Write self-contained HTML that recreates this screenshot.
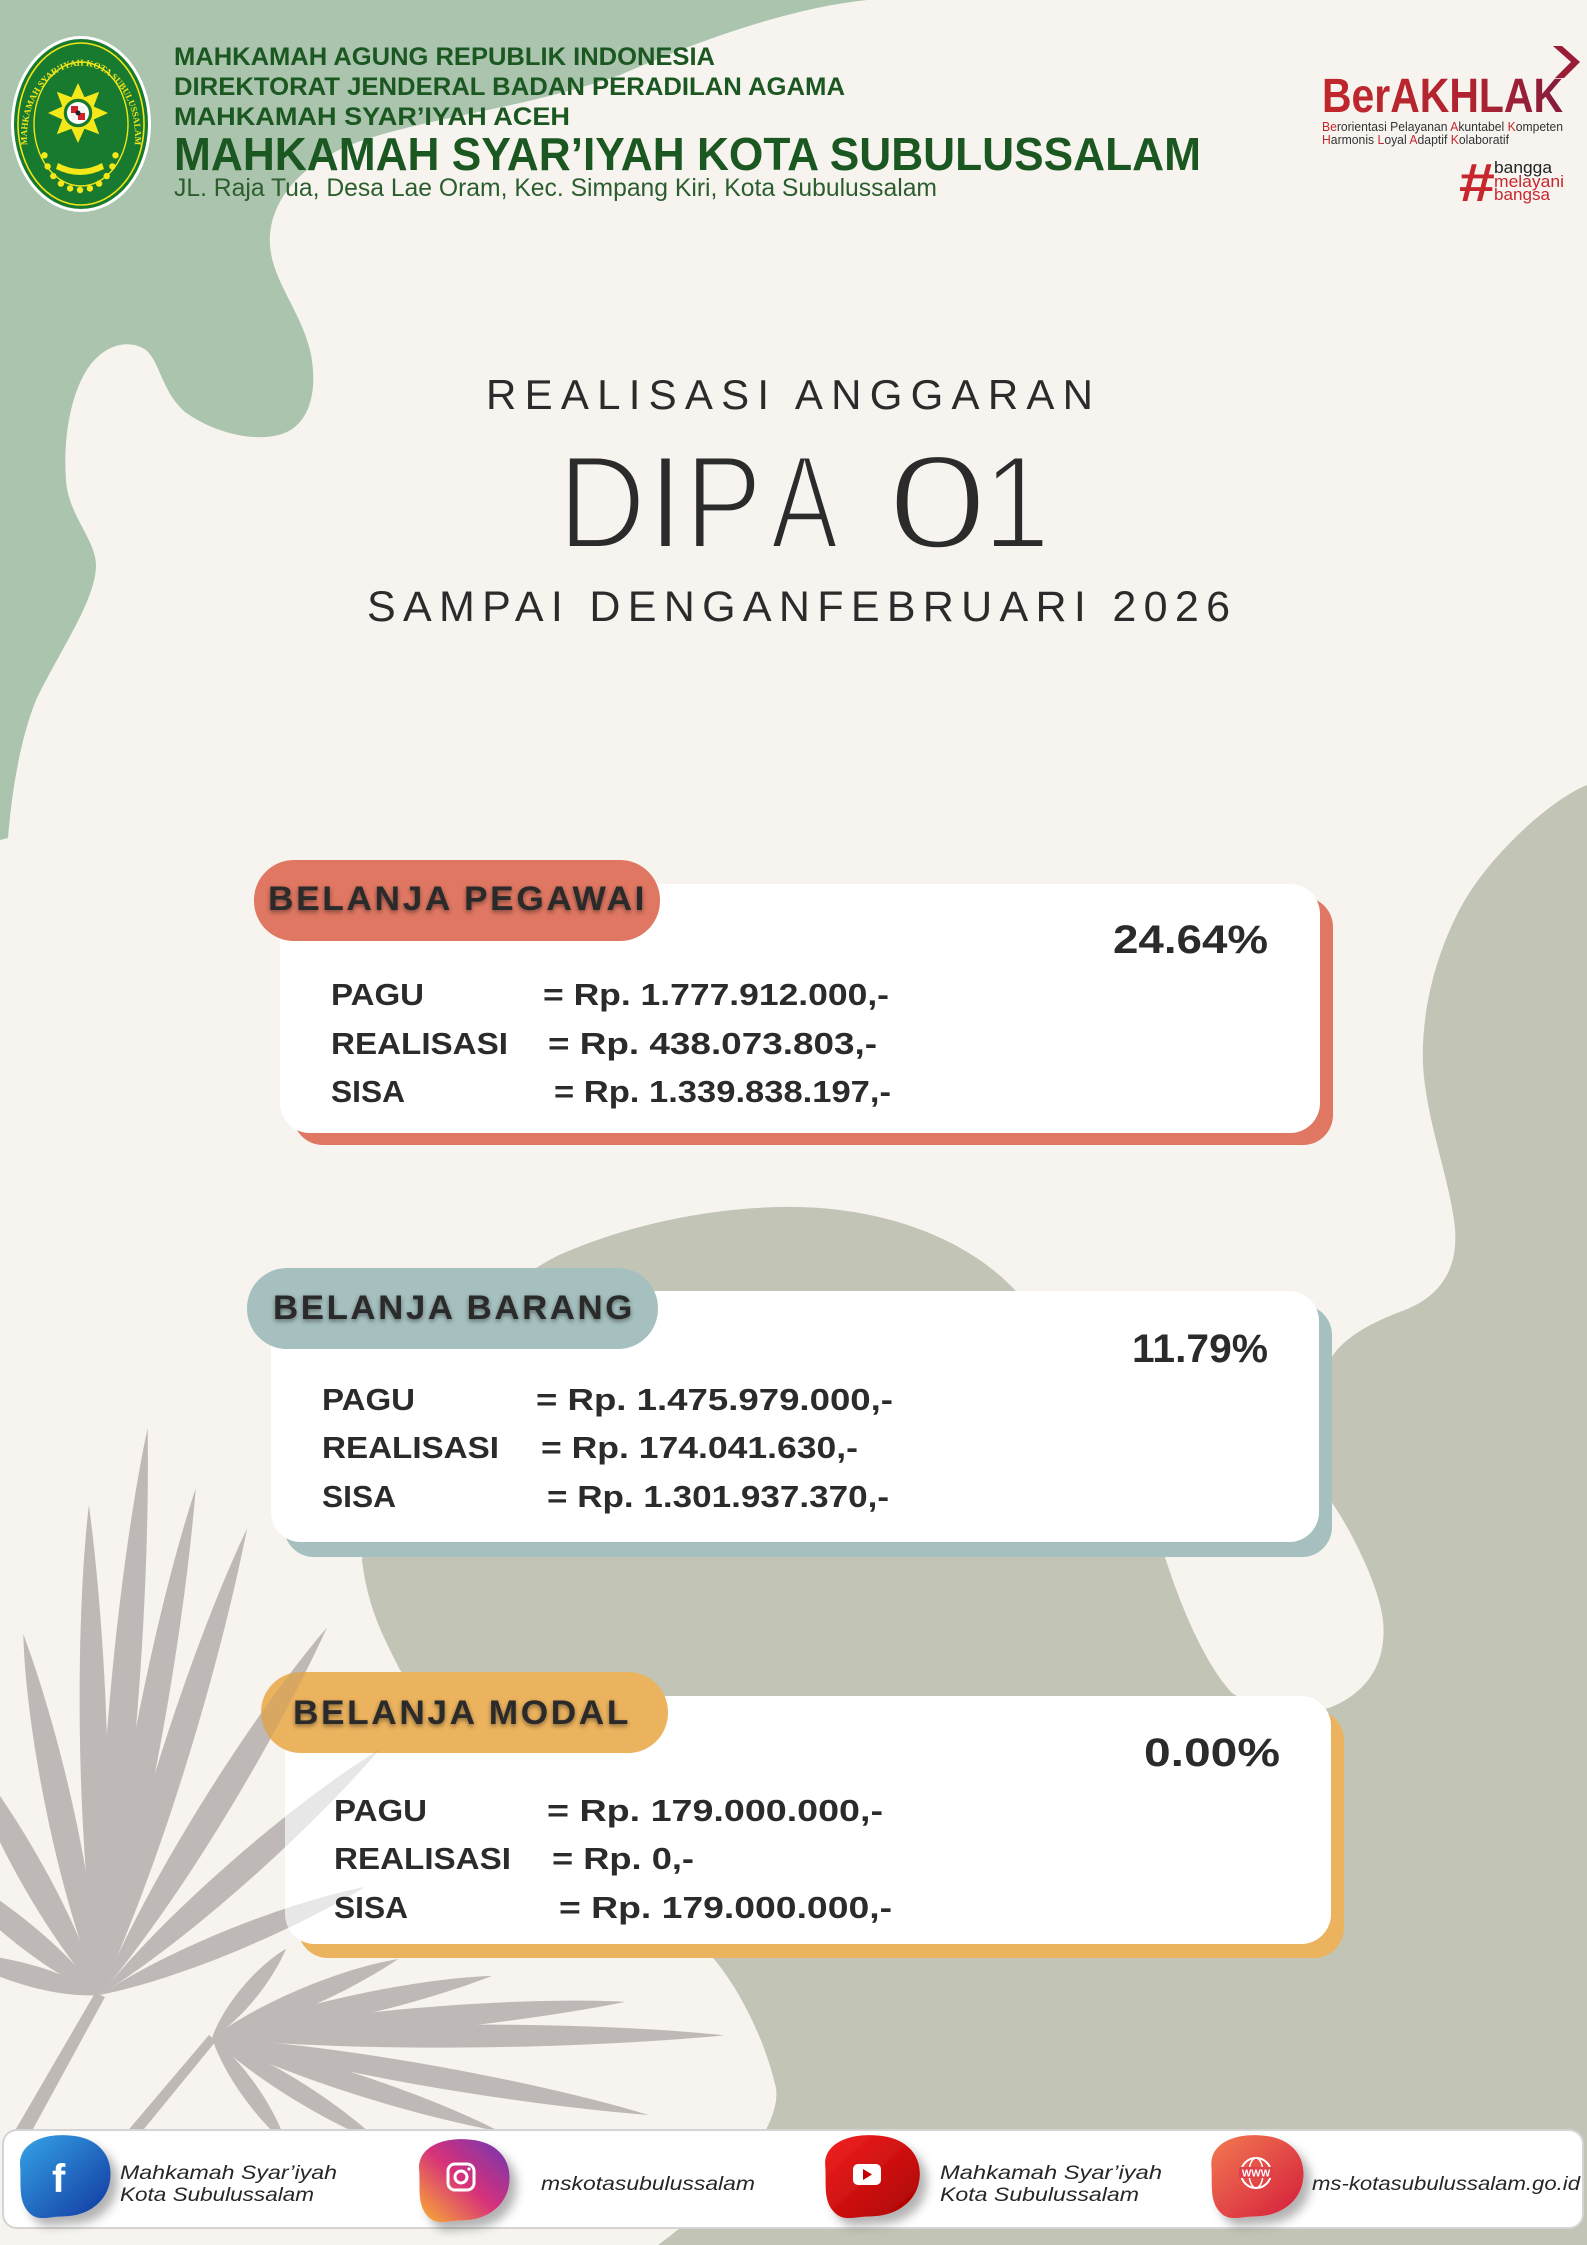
<!DOCTYPE html>
<html><head><meta charset="utf-8"><style>
html,body{margin:0;padding:0;background:#f7f4f0;}
svg{display:block;}
</style></head><body>
<svg width="1587" height="2245" viewBox="0 0 1587 2245" xmlns="http://www.w3.org/2000/svg" xmlns:xlink="http://www.w3.org/1999/xlink">
<defs>
  <filter id="ts" x="-5%" y="-40%" width="110%" height="180%"><feDropShadow dx="0" dy="2" stdDeviation="2.5" flood-color="#000" flood-opacity="0.45"/></filter>
  <filter id="bs" x="-30%" y="-30%" width="170%" height="170%"><feDropShadow dx="7" dy="8" stdDeviation="5" flood-color="#000" flood-opacity="0.3"/></filter>
  <linearGradient id="gBer" x1="0" y1="0" x2="1" y2="0"><stop offset="0" stop-color="#c1272d"/><stop offset="0.6" stop-color="#b0242f"/><stop offset="1" stop-color="#861c3e"/></linearGradient>
  <linearGradient id="gFb" x1="0" y1="0" x2="1" y2="1"><stop offset="0" stop-color="#35a3e6"/><stop offset="1" stop-color="#1237a0"/></linearGradient>
  <linearGradient id="gIg" x1="0" y1="1" x2="1" y2="0"><stop offset="0" stop-color="#fbb032"/><stop offset="0.5" stop-color="#d6307a"/><stop offset="1" stop-color="#6b39b5"/></linearGradient>
  <linearGradient id="gYt" x1="0" y1="0" x2="1" y2="1"><stop offset="0" stop-color="#f52222"/><stop offset="1" stop-color="#a80000"/></linearGradient>
  <linearGradient id="gWw" x1="0" y1="0" x2="1" y2="1"><stop offset="0" stop-color="#f27a52"/><stop offset="1" stop-color="#d41c3a"/></linearGradient>
  <path id="lf" d="M0,0 C-0.55,-0.3 -0.45,-0.75 0,-1 C0.4,-0.72 0.5,-0.3 0,0Z"/>
  <path id="blob" d="M-38,-10 C-40,-35 -15,-45 8,-42 C32,-40 46,-22 44,2 C42,28 22,42 2,42 C-12,42 -22,48 -30,38 C-40,26 -37,10 -38,-10Z"/>
  <path id="logoArc" d="M30,160 A54,71 0 1 1 132,160"/>
  <g id="leaves" stroke="none">
    <polygon points="95,1993 105,1997 27,2140 13,2134"/>
    <polygon points="209,2035 216,2041 135,2140 125,2134"/>
    <use xlink:href="#lf" transform="translate(100,1995) rotate(4.8) scale(40,569)"/>
    <use xlink:href="#lf" transform="translate(100,1995) rotate(-1.3) scale(38,490)"/>
    <use xlink:href="#lf" transform="translate(100,1995) rotate(-12) scale(38,369)"/>
    <use xlink:href="#lf" transform="translate(100,1995) rotate(-29) scale(38,290)"/>
    <use xlink:href="#lf" transform="translate(100,1995) rotate(-51) scale(34,210)"/>
    <use xlink:href="#lf" transform="translate(100,1995) rotate(-74) scale(30,150)"/>
    <use xlink:href="#lf" transform="translate(100,1995) rotate(10.7) scale(38,516)"/>
    <use xlink:href="#lf" transform="translate(100,1995) rotate(17.5) scale(38,489)"/>
    <use xlink:href="#lf" transform="translate(100,1995) rotate(31.7) scale(38,432)"/>
    <use xlink:href="#lf" transform="translate(100,1995) rotate(48.7) scale(36,373)"/>
    <use xlink:href="#lf" transform="translate(100,1995) rotate(67.8) scale(32,286)"/>
    <use xlink:href="#lf" transform="translate(212,2038) rotate(39.7) scale(24,116)"/>
    <use xlink:href="#lf" transform="translate(212,2038) rotate(67) scale(28,202)"/>
    <use xlink:href="#lf" transform="translate(212,2038) rotate(77.5) scale(30,287)"/>
    <use xlink:href="#lf" transform="translate(212,2038) rotate(85) scale(32,415)"/>
    <use xlink:href="#lf" transform="translate(212,2038) rotate(89.7) scale(32,512)"/>
    <use xlink:href="#lf" transform="translate(212,2038) rotate(100) scale(30,443)"/>
    <use xlink:href="#lf" transform="translate(212,2038) rotate(108) scale(28,302)"/>
    <use xlink:href="#lf" transform="translate(212,2038) rotate(122) scale(26,200)"/>
    <use xlink:href="#lf" transform="translate(212,2038) rotate(145) scale(24,130)"/>
  </g>
</defs>

<!-- background -->
<rect x="0" y="0" width="1587" height="2245" fill="#f7f4f0"/>
<!-- green blob top-left -->
<path fill="#aac4ae" d="M0,0 L867,0 C790,8 700,40 620,75 C520,110 420,118 350,145 C290,170 268,210 270,245 C272,280 300,310 310,350 C318,385 312,420 287,432 C258,445 212,432 185,412 C162,392 160,362 146,350 C128,338 104,345 88,368 C70,395 63,440 66,480 C68,515 96,540 96,565 C96,600 60,650 36,700 C20,740 12,790 8,838 L0,840 Z"/>
<!-- gray blob -->
<path fill="#c2c4b6" d="M1587,785 C1550,800 1490,855 1462,905 C1432,960 1421,1020 1423,1065 C1426,1120 1450,1180 1455,1228 C1458,1268 1442,1295 1405,1310 C1372,1322 1342,1338 1330,1360 L1330,1500 C1345,1520 1378,1580 1383,1620 C1387,1660 1370,1692 1329,1708 C1290,1716 1252,1706 1232,1693 C1210,1670 1185,1620 1165,1557 C1150,1520 1100,1400 1015,1290 C960,1232 870,1205 780,1207 C690,1209 610,1232 557,1256 C470,1300 380,1420 362,1560 C368,1610 385,1640 400,1670 L600,1900 C650,1930 700,1945 714,1959 C740,1990 765,2040 776,2088 C782,2130 720,2200 658,2245 L1587,2245 Z"/>

<!-- leaves bottom layer -->
<g fill="#ccc8c5"><use xlink:href="#leaves"/></g>

<!-- logo -->
<ellipse cx="81" cy="124" rx="70" ry="88" fill="#ffffff"/>
<ellipse cx="81" cy="124" rx="67" ry="85" fill="#187a2f"/>
<ellipse cx="81" cy="124" rx="63" ry="81" fill="none" stroke="#f2e619" stroke-width="1.6"/>
<ellipse cx="81" cy="124" rx="47" ry="62" fill="none" stroke="#f2e619" stroke-width="1.4"/>
<text font-family="Liberation Serif, serif" font-weight="bold" font-size="9" fill="#f2e619"><textPath xlink:href="#logoArc" startOffset="50%" text-anchor="middle">MAHKAMAH SYAR’IYAH KOTA SUBULUSSALAM</textPath></text>
<polygon fill="#f5e81a" points="78,83 84.5,97.3 99.2,91.8 93.7,106.5 108,113 93.7,119.5 99.2,134.2 84.5,128.7 78,143 71.5,128.7 56.8,134.2 62.3,119.5 48,113 62.3,106.5 56.8,91.8 71.5,97.3"/>
<circle cx="78" cy="113" r="15" fill="#187a2f" stroke="#f5e81a" stroke-width="1.5"/>
<circle cx="78" cy="113" r="11" fill="#ffffff"/>
<rect x="71" y="106" width="7" height="7" fill="#d0202a"/>
<rect x="78" y="113" width="7" height="7" fill="#d0202a"/>
<rect x="78" y="106" width="7" height="7" fill="#f4f4f4"/>
<rect x="71" y="113" width="7" height="7" fill="#f4f4f4"/>
<circle cx="78" cy="113" r="2.5" fill="#222"/>
<g fill="#f5e81a">
<circle cx="115.5" cy="155.3" r="3.2"/><circle cx="112.4" cy="166.4" r="3.2"/><circle cx="106.7" cy="176.1" r="3.2"/><circle cx="99.1" cy="183.6" r="3.2"/><circle cx="89.9" cy="188.4" r="3.2"/><circle cx="80" cy="190" r="3.2"/><circle cx="70.1" cy="188.4" r="3.2"/><circle cx="60.9" cy="183.6" r="3.2"/><circle cx="53.3" cy="176.1" r="3.2"/><circle cx="47.6" cy="166.4" r="3.2"/><circle cx="44.5" cy="155.3" r="3.2"/>
<path d="M58,163 Q80,175 102,163 L104,169 Q80,181 56,169 Z"/>
</g>

<!-- header text -->
<g font-family="Liberation Sans, Arial, sans-serif" fill="#1b5720">
<text x="174" y="65" font-size="25" font-weight="bold" textLength="541" lengthAdjust="spacingAndGlyphs">MAHKAMAH AGUNG REPUBLIK INDONESIA</text>
<text x="174" y="95" font-size="25" font-weight="bold" textLength="671" lengthAdjust="spacingAndGlyphs">DIREKTORAT JENDERAL BADAN PERADILAN AGAMA</text>
<text x="174" y="125" font-size="25" font-weight="bold" textLength="396" lengthAdjust="spacingAndGlyphs">MAHKAMAH SYAR’IYAH ACEH</text>
<text x="174" y="170" font-size="46" font-weight="bold" textLength="1027" lengthAdjust="spacingAndGlyphs">MAHKAMAH SYAR’IYAH KOTA SUBULUSSALAM</text>
<text x="174" y="196" font-size="25" fill="#2b5e2c" textLength="763" lengthAdjust="spacingAndGlyphs">JL. Raja Tua, Desa Lae Oram, Kec. Simpang Kiri, Kota Subulussalam</text>
</g>

<!-- BerAKHLAK -->
<text x="1322" y="112" font-family="Liberation Sans, Arial, sans-serif" font-weight="bold" font-size="48" fill="url(#gBer)" textLength="241" lengthAdjust="spacingAndGlyphs">BerAKHLAK</text>
<polygon fill="#9a1d36" points="1553,46 1562,46 1580,62 1564,78 1555,78 1571,62"/>
<g font-family="Liberation Sans, Arial, sans-serif" font-size="12.5" fill="#333">
<text x="1322" y="131" textLength="241" lengthAdjust="spacingAndGlyphs"><tspan fill="#c1272d">Be</tspan>rorientasi Pelayanan <tspan fill="#c1272d">A</tspan>kuntabel <tspan fill="#c1272d">K</tspan>ompeten</text>
<text x="1322" y="144" textLength="187" lengthAdjust="spacingAndGlyphs"><tspan fill="#c1272d">H</tspan>armonis <tspan fill="#c1272d">L</tspan>oyal <tspan fill="#c1272d">A</tspan>daptif <tspan fill="#c1272d">K</tspan>olaboratif</text>
</g>
<text x="1458" y="201" font-family="Liberation Sans, Arial, sans-serif" font-weight="bold" font-style="italic" font-size="54" fill="#c8262e" textLength="36" lengthAdjust="spacingAndGlyphs">#</text>
<g font-family="Liberation Sans, Arial, sans-serif" font-size="16.5">
<text x="1494" y="173" fill="#222" textLength="58" lengthAdjust="spacingAndGlyphs">bangga</text>
<text x="1494" y="187" fill="#c8262e" textLength="70" lengthAdjust="spacingAndGlyphs">melayani</text>
<text x="1494" y="200" fill="#c8262e" textLength="56" lengthAdjust="spacingAndGlyphs">bangsa</text>
</g>

<!-- titles -->
<g font-family="Liberation Sans, Arial, sans-serif" fill="#2b2b2b">
<text x="486" y="409" font-size="42" textLength="607" lengthAdjust="spacing">REALISASI ANGGARAN</text>
<g font-size="133" stroke="#f7f4f0" stroke-width="4">
<text x="558" y="548" textLength="88" lengthAdjust="spacingAndGlyphs">D</text>
<text x="647" y="548" textLength="37" lengthAdjust="spacingAndGlyphs">I</text>
<text x="685" y="548" textLength="77" lengthAdjust="spacingAndGlyphs">P</text>
<text x="771" y="548" textLength="67" lengthAdjust="spacingAndGlyphs">A</text>
<text x="887" y="548" textLength="101" lengthAdjust="spacingAndGlyphs">0</text>
<text x="983" y="548" textLength="67" lengthAdjust="spacingAndGlyphs">1</text>
</g>
<text x="367" y="621" font-size="43" textLength="863" lengthAdjust="spacing">SAMPAI DENGANFEBRUARI 2026</text>
</g>

<!-- card 1 -->
<rect x="293" y="897" width="1040" height="248" rx="30" fill="#df7762"/>
<rect x="280" y="884" width="1040" height="249" rx="30" fill="#ffffff"/>
<rect x="254" y="860" width="406" height="81" rx="40" fill="#df7762"/>
<!-- card 2 -->
<rect x="284" y="1305" width="1048" height="252" rx="30" fill="#a5c0bf"/>
<rect x="271" y="1291" width="1048" height="251" rx="30" fill="#ffffff"/>
<rect x="247" y="1268" width="411" height="81" rx="40" fill="#a5c0bf"/>
<!-- card 3 -->
<rect x="298" y="1710" width="1046" height="248" rx="30" fill="#ecb35e"/>
<rect x="285" y="1696" width="1046" height="248" rx="30" fill="#ffffff"/>
<rect x="261" y="1672" width="407" height="81" rx="40" fill="#ecb35e"/>

<!-- leaves top translucent layer -->
<g fill="#7f7a76" opacity="0.18"><use xlink:href="#leaves"/></g>

<!-- card texts -->
<g font-family="Liberation Sans, Arial, sans-serif" font-weight="bold" fill="#2b2b2b">
<g font-size="34" letter-spacing="2.5" filter="url(#ts)">
<text x="268" y="910" textLength="379" lengthAdjust="spacingAndGlyphs">BELANJA PEGAWAI</text>
<text x="273" y="1319" textLength="362" lengthAdjust="spacingAndGlyphs">BELANJA BARANG</text>
<text x="293" y="1724" textLength="338" lengthAdjust="spacingAndGlyphs">BELANJA MODAL</text>
</g>
<g font-size="40">
<text x="1113" y="953" textLength="155" lengthAdjust="spacingAndGlyphs">24.64%</text>
<text x="1132" y="1362" textLength="136" lengthAdjust="spacingAndGlyphs">11.79%</text>
<text x="1144" y="1766" textLength="136" lengthAdjust="spacingAndGlyphs">0.00%</text>
</g>
<g font-size="31">
<text x="331" y="1005" textLength="93" lengthAdjust="spacingAndGlyphs">PAGU</text>
<text x="331" y="1054" textLength="177" lengthAdjust="spacingAndGlyphs">REALISASI</text>
<text x="331" y="1102" textLength="74" lengthAdjust="spacingAndGlyphs">SISA</text>
<text x="543" y="1005" textLength="346" lengthAdjust="spacingAndGlyphs">= Rp. 1.777.912.000,-</text>
<text x="548" y="1054" textLength="329" lengthAdjust="spacingAndGlyphs">= Rp. 438.073.803,-</text>
<text x="554" y="1102" textLength="337" lengthAdjust="spacingAndGlyphs">= Rp. 1.339.838.197,-</text>

<text x="322" y="1410" textLength="93" lengthAdjust="spacingAndGlyphs">PAGU</text>
<text x="322" y="1458" textLength="177" lengthAdjust="spacingAndGlyphs">REALISASI</text>
<text x="322" y="1507" textLength="74" lengthAdjust="spacingAndGlyphs">SISA</text>
<text x="536" y="1410" textLength="357" lengthAdjust="spacingAndGlyphs">= Rp. 1.475.979.000,-</text>
<text x="541" y="1458" textLength="317" lengthAdjust="spacingAndGlyphs">= Rp. 174.041.630,-</text>
<text x="547" y="1507" textLength="342" lengthAdjust="spacingAndGlyphs">= Rp. 1.301.937.370,-</text>

<text x="334" y="1821" textLength="93" lengthAdjust="spacingAndGlyphs">PAGU</text>
<text x="334" y="1869" textLength="177" lengthAdjust="spacingAndGlyphs">REALISASI</text>
<text x="334" y="1918" textLength="74" lengthAdjust="spacingAndGlyphs">SISA</text>
<text x="547" y="1821" textLength="336" lengthAdjust="spacingAndGlyphs">= Rp. 179.000.000,-</text>
<text x="552" y="1869" textLength="142" lengthAdjust="spacingAndGlyphs">= Rp. 0,-</text>
<text x="559" y="1918" textLength="333" lengthAdjust="spacingAndGlyphs">= Rp. 179.000.000,-</text>
</g>
</g>

<!-- footer -->
<rect x="3" y="2130" width="1580" height="98" rx="14" fill="#ffffff" stroke="#d4d4d4" stroke-width="2"/>
<g filter="url(#bs)">
<use xlink:href="#blob" fill="url(#gFb)" transform="translate(62,2176) scale(1.1,0.96)"/>
<use xlink:href="#blob" fill="url(#gIg)" transform="translate(461,2180) scale(1.1,0.96)"/>
<use xlink:href="#blob" fill="url(#gYt)" transform="translate(869,2176) scale(1.15,0.96)"/>
<use xlink:href="#blob" fill="url(#gWw)" transform="translate(1254,2176) scale(1.12,0.96)"/>
</g>
<text x="52" y="2192" font-family="Liberation Sans, Arial, sans-serif" font-weight="bold" font-size="40" fill="#ffffff">f</text>
<rect x="448" y="2164" width="26" height="26" rx="7" fill="none" stroke="#ffffff" stroke-width="3"/>
<circle cx="461" cy="2177" r="6" fill="none" stroke="#ffffff" stroke-width="3"/>
<circle cx="469" cy="2169" r="1.6" fill="#ffffff"/>
<rect x="853" y="2164" width="28" height="21" rx="5" fill="#ffffff"/>
<polygon points="863,2169 863,2180 872,2174.5" fill="#c40000"/>
<circle cx="1256" cy="2173" r="15" fill="none" stroke="#ffffff" stroke-width="2"/>
<ellipse cx="1256" cy="2173" rx="7" ry="15" fill="none" stroke="#ffffff" stroke-width="1.5"/>
<rect x="1239" y="2167" width="34" height="11" fill="#e0404a"/>
<text x="1256" y="2176.5" text-anchor="middle" font-family="Liberation Sans, Arial, sans-serif" font-weight="bold" font-size="10" fill="#ffffff">WWW</text>
<g font-family="Liberation Sans Narrow, Liberation Sans, Arial, sans-serif" font-style="italic" font-size="19" fill="#262626">
<text x="120" y="2179" textLength="217" lengthAdjust="spacingAndGlyphs">Mahkamah Syar’iyah</text>
<text x="120" y="2201" textLength="194" lengthAdjust="spacingAndGlyphs">Kota Subulussalam</text>
<text x="541" y="2190" textLength="214" lengthAdjust="spacingAndGlyphs">mskotasubulussalam</text>
<text x="940" y="2179" textLength="222" lengthAdjust="spacingAndGlyphs">Mahkamah Syar’iyah</text>
<text x="940" y="2201" textLength="199" lengthAdjust="spacingAndGlyphs">Kota Subulussalam</text>
<text x="1312" y="2190" textLength="268" lengthAdjust="spacingAndGlyphs">ms-kotasubulussalam.go.id</text>
</g>
</svg>
</body></html>
